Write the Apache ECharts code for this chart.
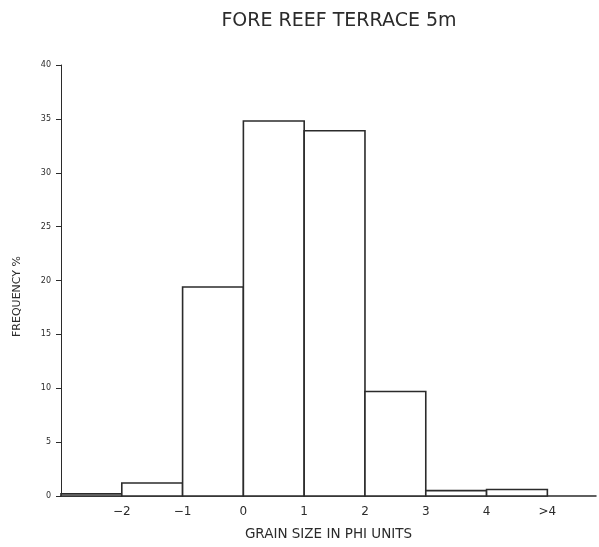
<!DOCTYPE html>
<html>
<head>
<meta charset="utf-8">
<script src="https://cdn.jsdelivr.net/npm/echarts@6/dist/echarts.min.js"></script>
<style>
  html, body { margin: 0; padding: 0; background: #ffffff; }
  #chart { width: 599px; height: 547px; }
</style>
</head>
<body>
<div id="chart"></div>
<script>
// Grain-size classes (phi units): lower and upper bin edges
const binStart = [-3, -2, -1, 0, 1, 2, 3, 4];
const binEnd   = [-2, -1, 0, 1, 2, 3, 4, 5];
// Frequency (%) in each class
const frequency = [0.2, 1.2, 19.4, 34.8, 33.9, 9.7, 0.5, 0.6];
// Labels on the phi axis
const xTickValues = [-2, -1, 0, 1, 2, 3, 4, 5];
const xTickLabels = ['\u22122', '\u22121', '0', '1', '2', '3', '4', '>4'];

const ink = '#2b2b2b';
const font = '"DejaVu Sans", sans-serif';

const chart = echarts.init(document.getElementById('chart'), null, { renderer: 'canvas' });

const bins = binStart.map((s, i) => [s, binEnd[i], frequency[i]]);

chart.setOption({
  backgroundColor: '#ffffff',
  animation: false,
  title: {
    text: 'FORE REEF TERRACE 5m',
    left: 334,
    top: 7,
    textAlign: 'center',
    textStyle: { fontFamily: font, fontWeight: 'normal', fontSize: 19, color: ink }
  },
  graphic: [{
    type: 'text',
    left: 12,
    top: 256,
    rotation: Math.PI / 2,
    style: {
      text: 'FREQUENCY %',
      fill: ink,
      font: '11px "DejaVu Sans", sans-serif'
    }
  }],
  grid: { left: 61, right: 0, top: 65, bottom: 51, containLabel: false },
  xAxis: {
    type: 'value',
    min: -3,
    max: 5.8,
    interval: 1,
    splitLine: { show: false },
    axisLine: { onZero: false, lineStyle: { color: ink, width: 1.5 } },
    axisTick: { show: false },
    axisLabel: {
      color: ink, fontFamily: font, fontSize: 12, margin: 10,
      formatter: v => {
        const i = xTickValues.indexOf(Math.round(v * 10) / 10);
        return i >= 0 ? xTickLabels[i] : '';
      }
    },
    name: 'GRAIN SIZE IN PHI UNITS',
    nameLocation: 'middle',
    nameGap: 31,
    nameTextStyle: { color: ink, fontFamily: font, fontSize: 13.5 }
  },
  yAxis: {
    type: 'value',
    min: 0,
    max: 40,
    interval: 5,
    splitLine: { show: false },
    axisLine: { show: true, onZero: false, lineStyle: { color: ink, width: 1 } },
    axisTick: { show: true, inside: false, length: 5, lineStyle: { color: ink } },
    axisLabel: { color: ink, fontFamily: font, fontSize: 8, margin: 10 }
  },
  series: [{
    type: 'custom',
    data: bins,
    renderItem: (params, api) => {
      const p0 = api.coord([api.value(0), 0]);
      const p1 = api.coord([api.value(1), api.value(2)]);
      return {
        type: 'rect',
        shape: { x: p0[0], y: p1[1], width: p1[0] - p0[0], height: p0[1] - p1[1] },
        style: { fill: '#ffffff', stroke: ink, lineWidth: 1.6 }
      };
    },
    encode: { x: [0, 1], y: 2 }
  }]
});
</script>
</body>
</html>
